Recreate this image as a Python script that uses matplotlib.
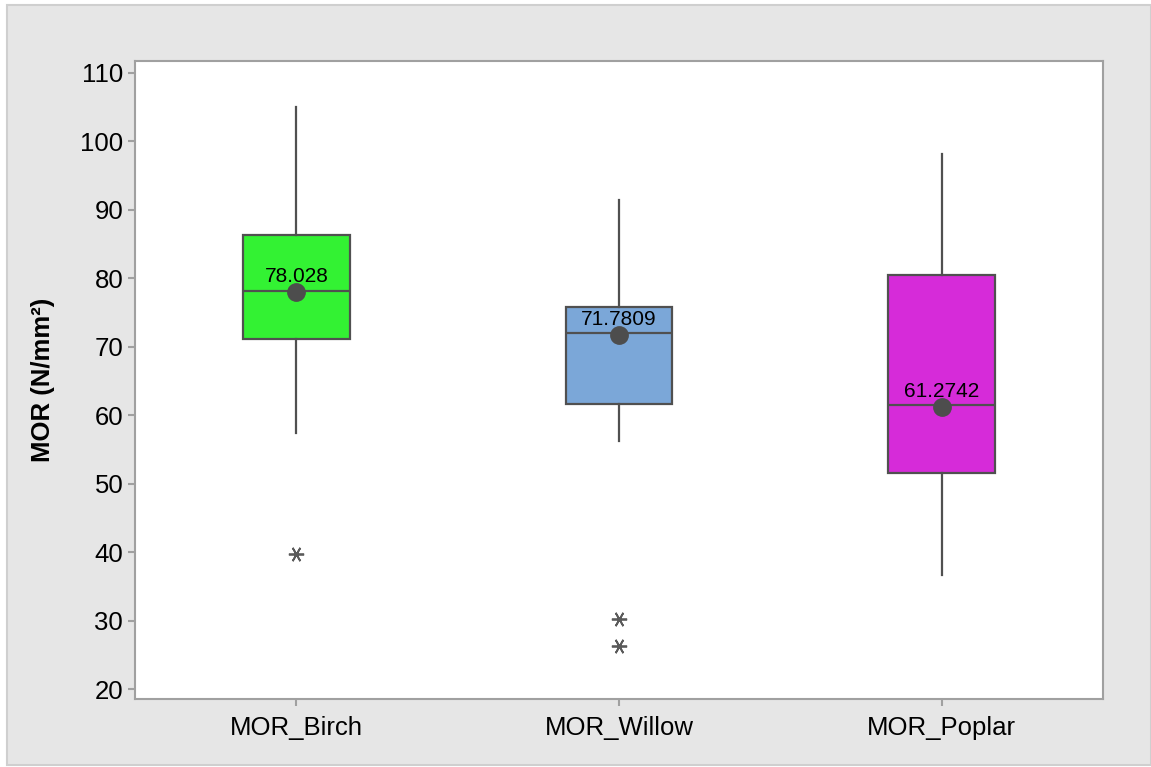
import matplotlib.pyplot as plt
from matplotlib.patches import Rectangle

plt.rcParams['font.family'] = ['Liberation Sans', 'DejaVu Sans']

# data
labels = ["MOR_Birch", "MOR_Willow", "MOR_Poplar"]
q1 = [71.2, 61.7, 51.5]
med = [78.15, 72.05, 61.5]
q3 = [86.3, 75.8, 80.5]
whislo = [57.4, 56.2, 36.7]
whishi = [105.0, 91.5, 98.2]
means = [78.028, 71.7809, 61.2742]
outliers = [[39.8], [30.2, 26.3], []]
colors = ["#33f233", "#7ba7d8", "#d62bd9"]

dark = "#505050"
axcol = "#a0a0a0"

fig = plt.figure(figsize=(11.51, 7.67), dpi=100)
fig.patch.set_facecolor("white")
fig.patches.append(Rectangle((7/1151, 2/767), 1 - 7/1151, 1 - 7/767, transform=fig.transFigure,
                             facecolor="#e6e6e6", edgecolor="#cfcfcf", linewidth=1.5, zorder=-10))

ax = fig.add_axes([135/1151, 1 - 699/767, (1103 - 135)/1151, (699 - 61)/767])
ax.set_facecolor("white")

stats = []
for i in range(3):
    stats.append(dict(label=labels[i], q1=q1[i], med=med[i], q3=q3[i],
                      whislo=whislo[i], whishi=whishi[i], mean=means[i], fliers=outliers[i]))

pos = [1, 2, 3]
bp = ax.bxp(stats, positions=pos, widths=0.33, patch_artist=True, showcaps=False,
            showmeans=False,
            boxprops=dict(edgecolor=dark, linewidth=1.6),
            medianprops=dict(color=dark, linewidth=1.6),
            whiskerprops=dict(color=dark, linewidth=1.6),
            flierprops=dict(marker=(6, 2, 90), markersize=11, markeredgecolor="#5a5a5a",
                            markerfacecolor="#5a5a5a", markeredgewidth=1.3, linestyle="none"))
for patch, c in zip(bp["boxes"], colors):
    patch.set_facecolor(c)

ax.plot(pos, means, "o", color="#4d4d4d", markersize=12.5, zorder=5)
for p, m in zip(pos, means):
    ax.annotate(f"{m:g}", (p, m), xytext=(0, 4), textcoords="offset points",
                ha="center", va="bottom", fontsize=15, color="black", zorder=6)

ax.set_xlim(0.5, 3.5)
ax.set_ylim(18.55, 111.75)
ax.set_yticks(range(20, 111, 10))
ax.set_xticks(pos)
ax.set_xticklabels(labels)
ax.tick_params(axis="both", labelsize=18.5, color=axcol, width=1.5, length=5, labelcolor="black")
ax.tick_params(axis="x", pad=7)
for s in ax.spines.values():
    s.set_color(axcol)
    s.set_linewidth(1.5)

ax.set_ylabel("MOR (N/mm²)", fontsize=18.5, fontweight="bold", labelpad=18)

fig.savefig("out.png", dpi=100)
